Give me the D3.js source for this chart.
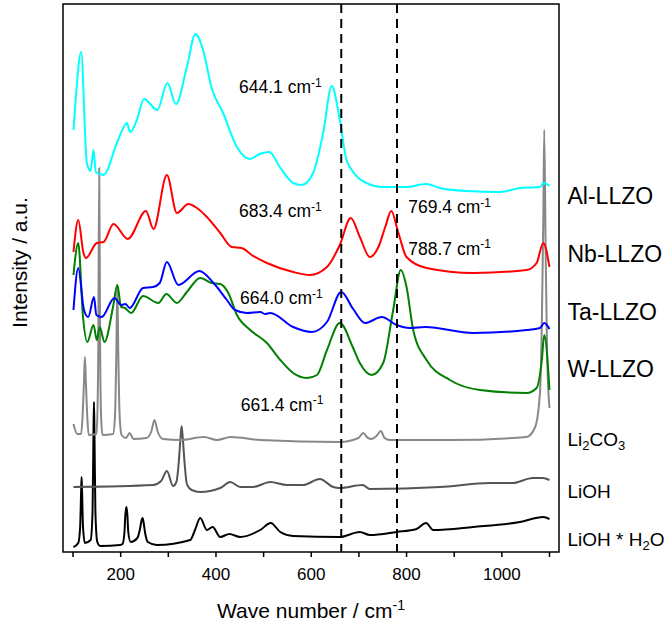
<!DOCTYPE html>
<html>
<head>
<meta charset="utf-8">
<script src="https://cdn.jsdelivr.net/npm/d3@7"></script>
<style>
  html, body { margin: 0; padding: 0; background: #fff; }
  svg { display: block; }
  text { font-family: Arial, "Liberation Sans", sans-serif; fill: #000; }
</style>
</head>
<body>
<svg id="chart" width="670" height="623"></svg>
<script>
// ---- Data (wavenumber cm^-1, stacked intensity a.u.) ----
const seriesNames = ["Al-LLZO", "Nb-LLZO", "Ta-LLZO", "W-LLZO", "Li2CO3", "LiOH", "LiOH * H2O"];

const alLLZO = [[102,422],[107,455],[118,500],[130,389],[138,381],[144,402],[149,380],[165,377],[193,409],[210,427],[214,429],[221,420],[235,432],[250,453],[278,442],[299,469],[317,448],[340,485],[358,518],[374,502],[392,464],[416,439],[445,405],[472,393],[493,398],[513,400],[535,385],[563,369],[581,367],[605,379],[626,419],[644,466],[661,432],[675,392],[682,385],[700,374],[717,369],[749,365],[801,365],[842,368],[871,364],[927,361],[997,360],[1039,364],[1081,365],[1089,369],[1101,366]];

const nbLLZO = [[102,300],[112,332],[123,299],[128,294],[151,309],[165,310],[186,328],[216,313],[254,341],[270,323],[298,377],[319,339],[343,348],[361,344],[382,335],[410,319],[434,305],[455,304],[476,297],[508,289],[563,280],[598,277],[634,285],[661,307],[684,334],[703,315],[724,295],[742,305],[757,326],[769,341],[784,319],[801,295],[843,284],[941,279],[1053,282],[1074,289],[1088,309],[1101,285]];

const taLLZO = [[102,242],[112,284],[124,242],[133,235],[145,255],[150,237],[161,235],[188,254],[202,247],[211,248],[220,244],[248,264],[269,265],[283,269],[298,290],[322,267],[366,281],[396,269],[424,252],[441,242],[466,239],[494,240],[504,238],[515,239],[563,225],[602,220],[634,230],[664,260],[689,243],[714,229],[749,235],[780,227],[808,224],[840,225],[941,219],[1053,222],[1081,224],[1090,229],[1101,223]];

const wLLZO = [[102,277],[112,309],[122,235],[131,210],[144,227],[151,212],[157,225],[167,210],[185,245],[194,267],[202,245],[210,244],[223,239],[248,256],[280,249],[297,258],[319,249],[340,260],[368,274],[392,269],[410,268],[427,259],[445,237],[473,222],[508,209],[536,192],[563,179],[592,174],[613,177],[634,202],[661,229],[689,204],[703,189],[728,177],[752,189],[773,242],[789,282],[801,265],[815,222],[843,192],[892,172],[955,162],[1053,159],[1074,164],[1085,192],[1090,217],[1101,162]];

const li2co3 = [[102,128],[110,118],[118,118],[121,135],[124,170],[126,195],[128,170],[131,135],[134,117],[150,118],[152,135],[154,200],[156,384],[158,200],[160,135],[163,117],[185,118],[189,135],[192,200],[194,267],[196,200],[199,135],[203,117],[212,114],[220,119],[228,113],[255,114],[265,120],[272,132],[279,120],[290,113],[326,112],[376,115],[403,112],[432,115],[494,112],[661,110],[700,114],[710,119],[720,114],[728,113],[738,116],[747,121],[755,114],[766,112],[892,112],[1053,115],[1071,125],[1081,159],[1085,230],[1088,330],[1090,422],[1093,300],[1096,200],[1101,144]];

const lioh = [[102,65],[269,67],[286,71],[298,81],[311,66],[318,70],[323,90],[326,110],[329,126],[332,110],[335,90],[340,68],[350,62],[368,60],[410,64],[431,70],[452,65],[479,65],[515,70],[550,67],[584,67],[619,73],[647,65],[661,64],[709,67],[724,63],[871,65],[976,69],[1024,69],[1066,74],[1087,74],[1101,72]];

const liohH2O = [[102,5],[112,9],[116,25],[118,60],[119,75],[120,60],[122,25],[126,9],[138,12],[142,40],[144,120],[145,150],[146,120],[148,40],[152,10],[158,6],[200,7],[205,8],[209,20],[211,38],[213,45],[215,38],[217,20],[222,10],[236,14],[242,24],[245,32],[247,34],[249,30],[252,20],[258,10],[277,7],[347,12],[357,22],[368,34],[382,22],[394,25],[410,15],[429,18],[452,15],[494,22],[516,29],[536,20],[563,16],[661,15],[703,20],[724,17],[780,20],[822,23],[842,29],[857,22],[941,25],[1039,30],[1088,35],[1101,33]];

const seriesData = [alLLZO, nbLLZO, taLLZO, wLLZO, li2co3, lioh, liohH2O];
const seriesColors = ["#00ffff", "#ff0000", "#0000ff", "#008000", "#888888", "#555555", "#000000"];

const xTicks = [100, 200, 300, 400, 500, 600, 700, 800, 900, 1000, 1100];
const xTickLabels = [200, 400, 600, 800, 1000];
const dashedLines = [664, 781];
const annotations = [
  { text: "644.1", wn: 644.1 },
  { text: "683.4", wn: 683.4 },
  { text: "769.4", wn: 769.4 },
  { text: "788.7", wn: 788.7 },
  { text: "664.0", wn: 664.0 },
  { text: "661.4", wn: 661.4 }
];

// ---- Layout ----
const svg = d3.select("#chart");
const L = 63, R = 559, T = 4, B = 552;
const x = d3.scaleLinear().domain([80, 1121]).range([L, R]);
const y = d3.scaleLinear().domain([0, 548]).range([B, T]);

// series lines (bottom to top)
const line = d3.line().x(d => x(d[0])).y(d => y(d[1])).curve(d3.curveMonotoneX);
const order = [6, 5, 4, 3, 2, 1, 0];
order.forEach(i => {
  svg.append("path")
    .datum(seriesData[i])
    .attr("fill", "none")
    .attr("stroke", seriesColors[i])
    .attr("stroke-width", 2)
    .attr("stroke-linejoin", "round")
    .attr("d", line);
});

// dashed reference lines
svg.selectAll("line.dash").data(dashedLines).enter().append("line")
  .attr("class", "dash")
  .attr("x1", d => x(d)).attr("x2", d => x(d))
  .attr("y1", T).attr("y2", B)
  .attr("stroke", "#000").attr("stroke-width", 2)
  .attr("stroke-dasharray", "9,6");

// frame
svg.append("rect")
  .attr("x", L).attr("y", T).attr("width", R - L).attr("height", B - T)
  .attr("fill", "none").attr("stroke", "#000").attr("stroke-width", 1.5);

// x axis
const xAxis = d3.axisBottom(x)
  .tickValues(xTicks)
  .tickSize(5)
  .tickPadding(11)
  .tickFormat(d => xTickLabels.includes(d) ? d : "");
const gx = svg.append("g").attr("transform", `translate(0,${B})`).call(xAxis);
gx.select(".domain").remove();
gx.selectAll(".tick line").attr("stroke", "#000").attr("stroke-width", 1.5);
gx.selectAll(".tick text").style("font-size", "17px").attr("fill", "#000")
  .style("font-family", "Arial, 'Liberation Sans', sans-serif");

// axis titles
const xt = svg.append("text")
  .attr("x", (L + R) / 2).attr("y", 617.5)
  .attr("text-anchor", "middle").style("font-size", "21px")
  .text("Wave number / cm");
xt.append("tspan").attr("dy", "-0.55em").style("font-size", "14px").text("-1");

svg.append("text")
  .attr("transform", "translate(27,262.5) rotate(-90)")
  .attr("text-anchor", "middle").style("font-size", "21px")
  .text("Intensity / a.u.");

// annotation positions (label anchors, in pixel layout)
const annPos = [[239, 93.3], [239, 217.3], [408.3, 213.3], [408.3, 255], [240, 304.3], [240.7, 410.7]];
annotations.forEach((a, i) => {
  const t = svg.append("text")
    .attr("x", annPos[i][0]).attr("y", annPos[i][1])
    .style("font-size", "17.5px")
    .text(a.text + " cm");
  t.append("tspan").attr("dy", "-0.55em").style("font-size", "12px").text("-1");
});

// series labels on the right
const labelY = [204, 261.7, 320, 377.3, 446, 498, 546];
const labelX = 567.5;
[0, 1, 2, 3].forEach(i => {
  svg.append("text").attr("x", labelX).attr("y", labelY[i])
    .style("font-size", "23px").text(seriesNames[i]);
});
function subLabel(yPos, parts) {
  const t = svg.append("text").attr("x", labelX).attr("y", yPos).style("font-size", "19px");
  let shifted = false;
  parts.forEach(p => {
    const ts = t.append("tspan").text(p.s);
    if (p.sub) {
      ts.attr("dy", "4px").style("font-size", "13px");
      shifted = true;
    } else if (shifted) {
      ts.attr("dy", "-4px");
      shifted = false;
    }
  });
}
subLabel(labelY[4], [{ s: "Li" }, { s: "2", sub: true }, { s: "CO" }, { s: "3", sub: true }]);
subLabel(labelY[5], [{ s: "LiOH" }]);
subLabel(labelY[6], [{ s: "LiOH * H" }, { s: "2", sub: true }, { s: "O" }]);
</script>
</body>
</html>
